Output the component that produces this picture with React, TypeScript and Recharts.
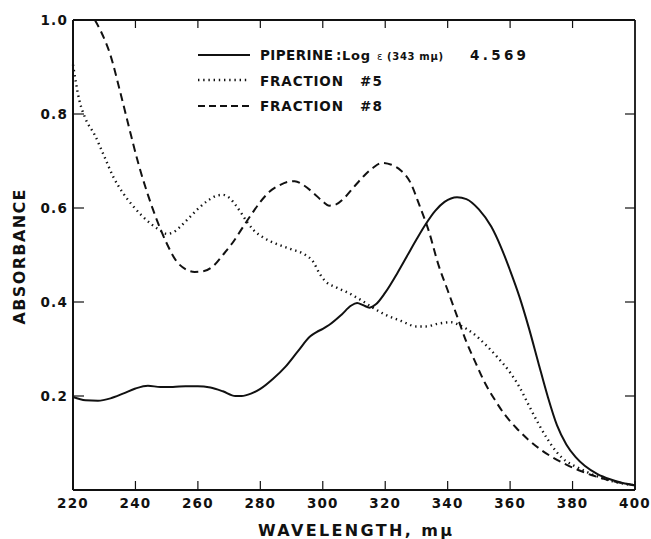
import React from "react";
import { LineChart, Line, XAxis, YAxis } from "recharts";

// ---- data (wavelength in mμ, absorbance) ----
const piperineWl = [220, 224, 228, 232, 236, 240, 244, 248, 252, 256, 260, 264, 268, 272, 274, 277, 280, 284, 288, 292, 296, 298, 300, 302, 306, 309, 311, 313, 315, 317, 320, 324, 327, 330, 333, 336, 339, 343, 346, 350, 354, 357, 360, 363, 366, 369, 372, 375, 378, 381, 384, 388, 392, 396, 400];
const piperineAbs = [0.198, 0.191, 0.19, 0.195, 0.205, 0.216, 0.222, 0.219, 0.219, 0.221, 0.221, 0.218, 0.21, 0.2, 0.2, 0.205, 0.215, 0.236, 0.262, 0.295, 0.327, 0.336, 0.343, 0.351, 0.373, 0.392, 0.398, 0.393, 0.388, 0.395, 0.42, 0.463, 0.498, 0.533, 0.566, 0.594, 0.613, 0.623, 0.619, 0.597, 0.56, 0.518, 0.467, 0.411, 0.345, 0.272, 0.2, 0.138, 0.097, 0.07, 0.051, 0.034, 0.023, 0.015, 0.01];

const fraction5Wl = [220, 222, 224, 227, 230, 233, 236, 239, 242, 245, 248, 250, 252, 254, 257, 260, 263, 266, 268, 270, 272, 274, 276, 278, 281, 285, 290, 294, 297, 299, 301, 304, 308, 312, 316, 320, 325, 330, 333, 337, 341, 344, 348, 352, 356, 360, 363, 366, 369, 372, 375, 378, 381, 385, 390, 395, 400];
const fraction5Abs = [0.905, 0.83, 0.79, 0.755, 0.71, 0.665, 0.632, 0.606, 0.584, 0.566, 0.552, 0.545, 0.548, 0.558, 0.578, 0.598, 0.615, 0.626, 0.628, 0.622, 0.607, 0.588, 0.568, 0.552, 0.537, 0.524, 0.512, 0.502, 0.485, 0.46, 0.443, 0.432, 0.42, 0.405, 0.388, 0.373, 0.36, 0.348, 0.348, 0.354, 0.357, 0.35, 0.334, 0.31, 0.282, 0.25, 0.219, 0.18, 0.142, 0.108, 0.08, 0.061, 0.05, 0.037, 0.024, 0.015, 0.01];

const fraction8Wl = [227, 229, 232, 235, 238, 241, 244, 247, 250, 253, 256, 259, 262, 265, 268, 271, 274, 277, 280, 283, 286, 289, 291, 294, 297, 300, 302, 304, 307, 310, 313, 316, 319, 322, 325, 328, 331, 334, 337, 340, 343, 346, 349, 352, 355, 358, 362, 366, 370, 374, 378, 382, 386, 390, 395, 400];
const fraction8Abs = [1.0, 0.975, 0.925, 0.85, 0.77, 0.693, 0.628, 0.572, 0.525, 0.488, 0.47, 0.464, 0.466, 0.477, 0.5, 0.525, 0.555, 0.585, 0.613, 0.635, 0.648, 0.656, 0.657, 0.648, 0.632, 0.614, 0.605, 0.607, 0.622, 0.645, 0.667, 0.685, 0.696, 0.692, 0.68, 0.655, 0.605, 0.55, 0.48, 0.425, 0.37, 0.315, 0.27, 0.227, 0.193, 0.163, 0.132, 0.106, 0.085, 0.068, 0.054, 0.042, 0.032, 0.024, 0.016, 0.01];

const xTicks = [220, 240, 260, 280, 300, 320, 340, 360, 380, 400];
const xTopTicks = [240, 260, 280, 300, 320, 340, 360, 380];
const yTicks = [0.2, 0.4, 0.6, 0.8, 1.0];
const yRightTicks = [0.2, 0.4, 0.6, 0.8];

const toRows = (wl: number[], abs: number[]) => wl.map((w, i) => ({ w, v: abs[i] }));
const piperineData = toRows(piperineWl, piperineAbs);
const fraction5Data = toRows(fraction5Wl, fraction5Abs);
const fraction8Data = toRows(fraction8Wl, fraction8Abs);

const FONT = "'DejaVu Sans', sans-serif";
const INK = "#111";
const DOTTED = "1.4 3.8";
const LABEL = { fill: INK, fontSize: 13.5, fontFamily: FONT, fontWeight: 700, letterSpacing: 1.2 };

const BottomTick = (p: any) => (
  <g>
    <line x1={p.x} y1={p.y} x2={p.x} y2={p.y - 9} stroke={INK} strokeWidth={1.2} />
    <text x={p.x} y={p.y + 18} textAnchor="middle" {...LABEL}>{p.payload.value}</text>
  </g>
);
const LeftTick = (p: any) => (
  <g>
    <line x1={p.x} y1={p.y} x2={p.x + 11} y2={p.y} stroke={INK} strokeWidth={1.2} />
    <text x={p.x - 5} y={p.y + 5} textAnchor="end" {...LABEL}>{Number(p.payload.value).toFixed(1)}</text>
  </g>
);
const TopTick = (p: any) => (
  <line x1={p.x} y1={p.y} x2={p.x} y2={p.y + 8} stroke={INK} strokeWidth={1.2} />
);
const RightTick = (p: any) => (
  <line x1={p.x} y1={p.y} x2={p.x - 10} y2={p.y} stroke={INK} strokeWidth={1.2} />
);

export default function App() {
  return (
    <div style={{ position: "absolute", left: 0, top: 0, width: 651, height: 539, background: "#fff" }}>
      <LineChart width={651} height={539} margin={{ top: 0, right: 0, bottom: 0, left: 0 }}>
        <XAxis
          xAxisId="b"
          dataKey="w"
          type="number"
          domain={[220, 400]}
          ticks={xTicks}
          height={49}
          axisLine={{ stroke: INK, strokeWidth: 2 }}
          tickLine={false}
          tickSize={0}
          tickMargin={0}
          tick={<BottomTick />}
          interval={0}
        />
        <XAxis
          xAxisId="t"
          orientation="top"
          dataKey="w"
          type="number"
          domain={[220, 400]}
          ticks={xTopTicks}
          height={20}
          axisLine={{ stroke: INK, strokeWidth: 1.8 }}
          tickLine={false}
          tickSize={0}
          tickMargin={0}
          tick={<TopTick />}
          interval={0}
        />
        <YAxis
          yAxisId="l"
          type="number"
          domain={[0, 1]}
          ticks={yTicks}
          width={73}
          axisLine={{ stroke: INK, strokeWidth: 2 }}
          tickLine={false}
          tickSize={0}
          tickMargin={0}
          tick={<LeftTick />}
          interval={0}
        />
        <YAxis
          yAxisId="r"
          orientation="right"
          type="number"
          domain={[0, 1]}
          ticks={yRightTicks}
          width={16}
          axisLine={{ stroke: INK, strokeWidth: 1.8 }}
          tickLine={false}
          tickSize={0}
          tickMargin={0}
          tick={<RightTick />}
          interval={0}
        />
        <Line
          xAxisId="b"
          yAxisId="l"
          data={piperineData}
          dataKey="v"
          type="monotone"
          stroke={INK}
          strokeWidth={2}
          dot={false}
          activeDot={false}
          isAnimationActive={false}
        />
        <Line
          xAxisId="b"
          yAxisId="l"
          data={fraction5Data}
          dataKey="v"
          type="monotone"
          stroke={INK}
          strokeWidth={2.4}
          strokeDasharray={DOTTED}
          dot={false}
          activeDot={false}
          isAnimationActive={false}
        />
        <Line
          xAxisId="b"
          yAxisId="l"
          data={fraction8Data}
          dataKey="v"
          type="monotone"
          stroke={INK}
          strokeWidth={2}
          strokeDasharray="8 5"
          dot={false}
          activeDot={false}
          isAnimationActive={false}
        />
        <Line
          xAxisId="t"
          yAxisId="r"
          data={fraction8Data}
          dataKey="v"
          stroke="none"
          strokeWidth={0}
          dot={false}
          activeDot={false}
          legendType="none"
          isAnimationActive={false}
        />
      </LineChart>
      <svg width={651} height={539} style={{ position: "absolute", left: 0, top: 0, pointerEvents: "none" }}>
        <g fontFamily={FONT} fill={INK} fontWeight={700}>
          <text x={19} y={257} transform="rotate(-90 19 257)" textAnchor="middle" dominantBaseline="central" fontSize={16} textLength={135} lengthAdjust="spacing">ABSORBANCE</text>
          <text x={355} y={536} textAnchor="middle" fontSize={16} textLength={194} lengthAdjust="spacing">WAVELENGTH, mμ</text>

          <line x1={198} y1={55} x2={250} y2={55} stroke={INK} strokeWidth={2} />
          <line x1={198} y1={80} x2={250} y2={80} stroke={INK} strokeWidth={2.4} strokeDasharray={DOTTED} />
          <line x1={198} y1={106} x2={252} y2={106} stroke={INK} strokeWidth={2} strokeDasharray="7 4" />

          <text x={260} y={60} fontSize={13.5} textLength={73} lengthAdjust="spacing">PIPERINE</text>
          <text x={336} y={60} fontSize={13.5}>:</text>
          <text x={342} y={60} fontSize={13} textLength={28} lengthAdjust="spacing">Log</text>
          <text x={377} y={60} fontSize={10} fontWeight={400}>ε</text>
          <text x={387} y={60} fontSize={10} textLength={56} lengthAdjust="spacing">(343 mμ)</text>
          <text x={470} y={60} fontSize={13.5} textLength={56} lengthAdjust="spacing">4.569</text>

          <text x={260} y={86} fontSize={13.5} textLength={83} lengthAdjust="spacing">FRACTION</text>
          <text x={360} y={86} fontSize={13.5} textLength={22} lengthAdjust="spacing">#5</text>
          <text x={260} y={111} fontSize={13.5} textLength={83} lengthAdjust="spacing">FRACTION</text>
          <text x={360} y={111} fontSize={13.5} textLength={22} lengthAdjust="spacing">#8</text>
        </g>
      </svg>
    </div>
  );
}
